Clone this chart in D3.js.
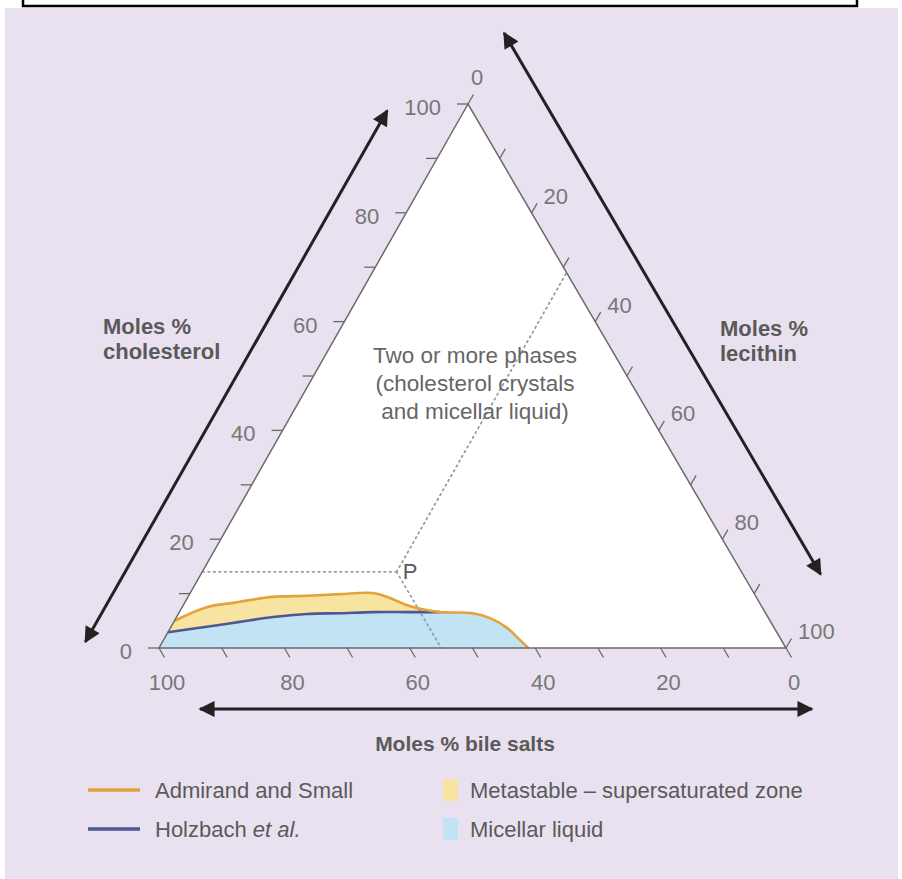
<!DOCTYPE html>
<html>
<head>
<meta charset="utf-8">
<script src="https://cdn.jsdelivr.net/npm/d3@7"></script>
<style>
  body { margin: 0; background: #ffffff; }
  svg { display: block; }
</style>
</head>
<body>
<svg id="chart" width="902" height="879"></svg>
<script>
// ---- Data: bile composition in mol % (cholesterol, lecithin; bile salts = remainder) ----
const tickValues  = [0, 10, 20, 30, 40, 50, 60, 70, 80, 90, 100];
const labelValues = [0, 20, 40, 60, 80, 100];

// Admirand and Small boundary of the micellar zone
const admirandChol = [5, 7.5, 8.3, 8.8, 9.4, 9.6, 9.9, 10.1, 9.2, 7.9, 7.2, 6.6, 6.4, 5.5, 3.7, 1.5, 0];
const admirandLec  = [0, 3.9, 7.7, 10.1, 13.5, 18.8, 24, 29.1, 32.3, 35.6, 38.1, 41.5, 46.9, 50.1, 53.7, 56.8, 58.9];

// Holzbach et al. boundary (joins the Admirand and Small line at its last point)
const holzbachChol = [2.9, 3.9, 4.8, 5.7, 6.25, 6.4, 6.6, 6.6, 6.6];
const holzbachLec  = [0, 5.7, 10.5, 15.4, 20.5, 25.7, 30.9, 36.3, 41.5];

// Example composition P
const pointP = { label: "P", chol: 14, lec: 31 };

const axisTitles = {
  chol: ["Moles %", "cholesterol"],
  lec: ["Moles %", "lecithin"],
  bile: "Moles % bile salts"
};
const regionText = ["Two or more phases", "(cholesterol crystals", "and micellar liquid)"];
const legendLines = [
  { name: "Admirand and Small", key: "admirand" },
  { name: "Holzbach", italic: "et al.", key: "holzbach" }
];
const legendAreas = [
  { name: "Metastable \u2013 supersaturated zone", key: "metastable" },
  { name: "Micellar liquid", key: "micellar" }
];

// ---- Styles ----
const colors = {
  page: "#e9e1ef",
  admirand: "#e3a23a",
  holzbach: "#4b5894",
  metastable: "#f7e4a0",
  micellar: "#c1e3f3",
  frame: "#6a6a6a",
  arrow: "#222222",
  text: "#5a5a5a",
  tick: "#777777",
  dots: "#9a9a9a"
};

const svg = d3.select("#chart");
const W = 902, H = 879;

// Page background and header box
svg.append("rect").attr("x", 0).attr("y", 0).attr("width", W).attr("height", H).attr("fill", "#ffffff");
svg.append("rect").attr("x", 5).attr("y", 8).attr("width", W - 9).attr("height", H - 8).attr("fill", colors.page);
svg.append("rect").attr("x", 23).attr("y", -4).attr("width", 834).attr("height", 10)
  .attr("fill", "#ffffff").attr("stroke", "#000").attr("stroke-width", 2.5);

// ---- Ternary projection: cholesterol apex, bile-salt lower-left, lecithin lower-right ----
const vChol = [468, 104], vBile = [159, 648], vLec = [786, 648];
const frac = d3.scaleLinear().domain([0, 100]).range([0, 1]);
function proj(chol, lec) {
  const c = frac(chol), l = frac(lec), b = 1 - c - l;
  return [
    c * vChol[0] + b * vBile[0] + l * vLec[0],
    c * vChol[1] + b * vBile[1] + l * vLec[1]
  ];
}

const g = svg.append("g");

// Triangle interior
g.append("path")
  .attr("d", d3.line()([proj(100, 0), proj(0, 0), proj(0, 100)]) + "Z")
  .attr("fill", "#ffffff");

// Regions
const admPts = admirandChol.map((c, i) => proj(c, admirandLec[i]));
const holPts = holzbachChol.map((c, i) => proj(c, holzbachLec[i]));
const joinIndex = admirandLec.indexOf(holzbachLec[holzbachLec.length - 1]);
const smooth = d3.line().curve(d3.curveCatmullRom.alpha(0.5));
const smoothPts = (pts) => {
  // sample the smoothed curve into a polyline so it can be closed against the triangle edges
  const p = document.createElementNS("http://www.w3.org/2000/svg", "path");
  p.setAttribute("d", smooth(pts));
  const len = p.getTotalLength(), out = [];
  for (let s = 0; s <= len; s += 2) { const q = p.getPointAtLength(s); out.push([q.x, q.y]); }
  out.push(pts[pts.length - 1]);
  return out;
};
const admSm = smoothPts(admPts);
const holSm = smoothPts(holPts);
const tailSm = smoothPts(admPts.slice(joinIndex));

g.append("path")
  .attr("d", d3.line()([...admSm, proj(0, 0)]) + "Z")
  .attr("fill", colors.metastable);
g.append("path")
  .attr("d", d3.line()([...holSm, ...tailSm, proj(0, 0)]) + "Z")
  .attr("fill", colors.micellar);

// Dotted construction lines through P
const P = proj(pointP.chol, pointP.lec);
const dotted = [
  proj(pointP.chol, 0),                       // constant cholesterol -> left edge
  proj(100 - pointP.lec, pointP.lec),         // constant lecithin -> right edge
  proj(0, pointP.chol + pointP.lec)           // constant bile salts -> base
];
dotted.forEach(end => {
  g.append("line")
    .attr("x1", P[0]).attr("y1", P[1]).attr("x2", end[0]).attr("y2", end[1])
    .attr("stroke", colors.dots).attr("stroke-width", 1.8)
    .attr("stroke-dasharray", "1.5,4").attr("stroke-linecap", "round");
});
g.append("text").attr("x", P[0] + 6).attr("y", P[1] + 7)
  .attr("font-family", "Liberation Sans, Arial, sans-serif").attr("font-size", 22)
  .attr("fill", colors.text).text(pointP.label);

// Boundary lines
g.append("path").attr("d", smooth(holPts)).attr("fill", "none")
  .attr("stroke", colors.holzbach).attr("stroke-width", 2.6);
g.append("path").attr("d", smooth(admPts)).attr("fill", "none")
  .attr("stroke", colors.admirand).attr("stroke-width", 2.6);

// Triangle frame
g.append("path")
  .attr("d", d3.line()([proj(100, 0), proj(0, 0), proj(0, 100)]) + "Z")
  .attr("fill", "none").attr("stroke", colors.frame).attr("stroke-width", 1.5)
  .attr("stroke-linejoin", "miter");

// ---- Ticks and labels ----
const numFont = "Liberation Sans, Arial, sans-serif";
const tickG = g.append("g").attr("stroke", colors.frame).attr("stroke-width", 1.3);
const labG = g.append("g").attr("font-family", numFont).attr("font-size", 22).attr("fill", colors.tick);

tickValues.forEach(v => {
  // cholesterol: left edge, horizontal ticks
  const a = proj(v, 0);
  tickG.append("line").attr("x1", a[0]).attr("y1", a[1]).attr("x2", a[0] - 11).attr("y2", a[1]);
  // bile salts: base, ticks along constant-bile-salt direction
  const b = proj(0, 100 - v);
  tickG.append("line").attr("x1", b[0]).attr("y1", b[1]).attr("x2", b[0] + 5.5).attr("y2", b[1] + 9.5);
  // lecithin: right edge, ticks along constant-lecithin direction
  const c = proj(100 - v, v);
  tickG.append("line").attr("x1", c[0]).attr("y1", c[1]).attr("x2", c[0] + 5.5).attr("y2", c[1] - 9.5);
});

labelValues.forEach(v => {
  const a = proj(v, 0);
  labG.append("text").attr("x", a[0] - 27).attr("y", a[1] + 11).attr("text-anchor", "end").text(v);
  const b = proj(0, 100 - v);
  labG.append("text").attr("x", b[0] + 8).attr("y", b[1] + 42).attr("text-anchor", "middle").text(v);
  const c = proj(100 - v, v);
  if (v === 0) {
    labG.append("text").attr("x", c[0] + 9).attr("y", c[1] - 19).attr("text-anchor", "middle").text(v);
  } else {
    labG.append("text").attr("x", c[0] + 12).attr("y", c[1] - 9).attr("text-anchor", "start").text(v);
  }
});

// ---- Direction arrows alongside each side ----
const defs = svg.append("defs");
["start", "end"].forEach(kind => {
  defs.append("marker").attr("id", "arrow-" + kind)
    .attr("viewBox", "0 0 10 10").attr("refX", kind === "end" ? 9 : 1).attr("refY", 5)
    .attr("markerWidth", 6).attr("markerHeight", 5.4).attr("markerUnits", "strokeWidth")
    .attr("orient", "auto")
    .append("path")
    .attr("d", kind === "end" ? "M0,0 L10,5 L0,10 Z" : "M10,0 L0,5 L10,10 Z")
    .attr("fill", colors.arrow);
});
function sideArrow(p0, p1, t0, t1, offset) {
  const dx = p1[0] - p0[0], dy = p1[1] - p0[1], len = Math.hypot(dx, dy);
  const ux = dx / len, uy = dy / len;
  const nx = uy, ny = -ux;   // outward normal for clockwise traversal
  const s = [p0[0] + ux * t0 + nx * offset, p0[1] + uy * t0 + ny * offset];
  const e = [p0[0] + ux * t1 + nx * offset, p0[1] + uy * t1 + ny * offset];
  svg.append("line").attr("x1", s[0]).attr("y1", s[1]).attr("x2", e[0]).attr("y2", e[1])
    .attr("stroke", colors.arrow).attr("stroke-width", 3)
    .attr("marker-start", "url(#arrow-start)").attr("marker-end", "url(#arrow-end)");
}
sideArrow(proj(0, 0), proj(100, 0), -31, 580, 67);      // cholesterol side
sideArrow(proj(100, 0), proj(0, 100), -43, 584, 67);    // lecithin side
sideArrow(proj(0, 100), proj(0, 0), -26, 586, 61);      // bile salts side

// ---- Titles ----
const titleFont = "Liberation Sans, Arial, sans-serif";
const tl = svg.append("g").attr("font-family", titleFont).attr("font-size", 22)
  .attr("font-weight", "bold").attr("fill", colors.text);
axisTitles.chol.forEach((t, i) => tl.append("text").attr("x", 103).attr("y", 334 + i * 25).text(t));
axisTitles.lec.forEach((t, i) => tl.append("text").attr("x", 720).attr("y", 336 + i * 25).text(t));
tl.append("text").attr("x", 465).attr("y", 751).attr("text-anchor", "middle").attr("font-size", 21)
  .text(axisTitles.bile);

const rt = svg.append("g").attr("font-family", titleFont).attr("font-size", 22.5)
  .attr("fill", "#666666").attr("text-anchor", "middle");
regionText.forEach((t, i) => rt.append("text").attr("x", 475).attr("y", 363 + i * 28).text(t));

// ---- Legend ----
const lg = svg.append("g").attr("font-family", titleFont).attr("font-size", 22).attr("fill", colors.text);
legendLines.forEach((d, i) => {
  const y = 790 + i * 39;
  lg.append("line").attr("x1", 88).attr("x2", 140).attr("y1", y).attr("y2", y)
    .attr("stroke", colors[d.key]).attr("stroke-width", 3.5);
  const t = lg.append("text").attr("x", 155).attr("y", y + 8).text(d.name);
  if (d.italic) t.append("tspan").attr("font-style", "italic").text(" " + d.italic);
});
legendAreas.forEach((d, i) => {
  const y = 790 + i * 39;
  lg.append("rect").attr("x", 443).attr("y", y - 11).attr("width", 15).attr("height", 22)
    .attr("fill", colors[d.key]);
  lg.append("text").attr("x", 470).attr("y", y + 8).text(d.name);
});
</script>
</body>
</html>
